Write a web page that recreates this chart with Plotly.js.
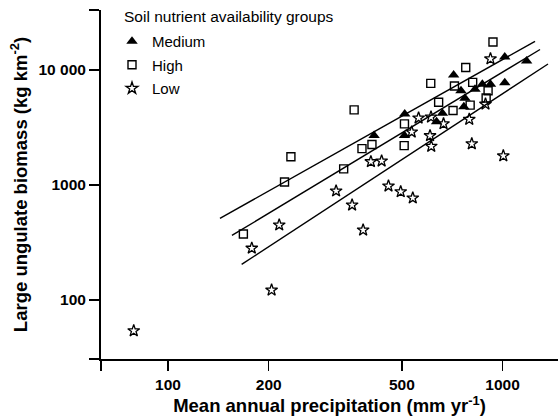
<!DOCTYPE html>
<html>
<head>
<meta charset="utf-8">
<script src="https://cdn.plot.ly/plotly-3.0.1.min.js"></script>
<style>html,body{margin:0;padding:0;background:#fff;}#chart{width:558px;height:419px;}</style>
</head>
<body>
<div id="chart"></div>
<script>
// Medium soil nutrient availability (filled triangles)
const mediumPrecip = [1015, 1180, 714, 870, 920, 1015, 827, 751, 772, 766, 661, 635, 510, 413, 509];
const mediumBiomass = [13000, 12000, 9050, 7500, 7500, 7750, 6800, 6600, 5675, 4800, 4200, 3550, 4150, 2700, 2700];

// High soil nutrient availability (open squares)
const highPrecip = [936, 776, 610, 360, 718, 814, 644, 905, 893, 800, 711, 509, 407, 380, 508, 335, 233, 223, 168];
const highBiomass = [17500, 10500, 7650, 4500, 7250, 7800, 5250, 6600, 5700, 4950, 4450, 3400, 2250, 2070, 2200, 1380, 1760, 1062, 375];

// Low soil nutrient availability (open stars)
const lowPrecip = [920, 889, 561, 611, 666, 795, 535, 607, 612, 809, 1005, 404, 435, 318, 456, 496, 539, 355, 383, 215, 178, 204, 79];
const lowBiomass = [12500, 5050, 3825, 3900, 3410, 3726, 2889, 2684, 2171, 2282, 1794, 1594, 1617, 887, 980, 874, 771, 670, 406, 449, 282, 122, 54];

// Regression line endpoints (precipitation, biomass)
const fitTopX = [143, 1250];
const fitTopY = [513, 17770];
const fitMidX = [155.3, 1294];
const fitMidY = [364, 15075];
const fitLowX = [166, 1367];
const fitLowY = [204, 11276];

// Tick labels
const xTickVals = [100, 200, 500, 1000];
const xTickText = ['100', '200', '500', '1000'];
const yTickVals = [100, 1000, 10000];
const yTickText = ['100', '1000', '10 000'];

const legendTitle = 'Soil nutrient availability groups';

const FONT = '"Liberation Sans", Arial, sans-serif';

const xRange = [1.7998, 3.1656];
const yRange = [1.4870, 4.5217];

const lineStyle = {color: '#000', width: 1.4};
const traces = [
  {x: fitTopX, y: fitTopY, mode: 'lines', line: lineStyle, showlegend: false, hoverinfo: 'skip'},
  {x: fitMidX, y: fitMidY, mode: 'lines', line: lineStyle, showlegend: false, hoverinfo: 'skip'},
  {x: fitLowX, y: fitLowY, mode: 'lines', line: lineStyle, showlegend: false, hoverinfo: 'skip'},
  {x: mediumPrecip, y: mediumBiomass, mode: 'markers', name: 'Medium', legendgroup: 'm',
   marker: {symbol: 'triangle-up', size: 10, color: '#000'}},
  {x: highPrecip, y: highBiomass, mode: 'markers', name: 'High', legendgroup: 'h',
   marker: {symbol: 'square-open', size: 8, color: '#000', line: {width: 1.4, color: '#000'}}},
  {x: lowPrecip, y: lowBiomass, mode: 'markers', name: 'Low', legendgroup: 'l',
   marker: {symbol: 'star-open', size: 9, color: '#000', line: {width: 1.3, color: '#000'}}}
];

// end ticks at axis extremities (no labels)
const xEndVal = Math.pow(10, xRange[0]);
const yTopVal = Math.pow(10, yRange[1]);
const yBotVal = Math.pow(10, yRange[0]);

const PW = 457, PH = 349;

const layout = {
  width: 558, height: 419,
  margin: {l: 101, r: 0, t: 10, b: 60},
  paper_bgcolor: '#fff', plot_bgcolor: '#fff',
  font: {family: FONT, color: '#000', size: 15},
  xaxis: {
    type: 'log', range: xRange,
    tickvals: [xEndVal].concat(xTickVals), ticktext: [''].concat(xTickText),
    ticks: 'outside', ticklen: 10, tickwidth: 1.5, tickcolor: '#000',
    showline: true, linewidth: 2, linecolor: '#000',
    showgrid: false, zeroline: false,
    tickfont: {family: FONT, size: 15.5, weight: 'bold'},
    title: {text: 'Mean annual precipitation (mm yr<sup>-1</sup>)', font: {family: FONT, size: 18.5, weight: 'bold'}, standoff: 3}
  },
  yaxis: {
    type: 'log', range: yRange,
    tickvals: [yBotVal].concat(yTickVals, [yTopVal]), ticktext: [''].concat(yTickText, ['']),
    ticks: 'outside', ticklen: 10, tickwidth: 1.5, tickcolor: '#000',
    showline: true, linewidth: 2, linecolor: '#000',
    showgrid: false, zeroline: false,
    tickfont: {family: FONT, size: 15.5, weight: 'bold'},
    title: {text: 'Large ungulate biomass (kg km<sup>-2</sup>)', font: {family: FONT, size: 18.5, weight: 'bold'}, standoff: 6}
  },
  legend: {
    x: (112 - 101) / PW, y: 1 - (25 - 10) / PH, xanchor: 'left', yanchor: 'top',
    bgcolor: 'rgba(0,0,0,0)', borderwidth: 0,
    font: {family: FONT, size: 15},
    itemwidth: 30, tracegroupgap: 1
  },
  annotations: [{
    text: legendTitle, xref: 'paper', yref: 'paper',
    x: (122 - 101) / PW, y: 1 - (17 - 10) / PH, xanchor: 'left', yanchor: 'middle',
    showarrow: false, font: {family: FONT, size: 15.5}
  }],
  showlegend: true
};

Plotly.newPlot('chart', traces, layout, {displayModeBar: false, staticPlot: true});
</script>
</body>
</html>
